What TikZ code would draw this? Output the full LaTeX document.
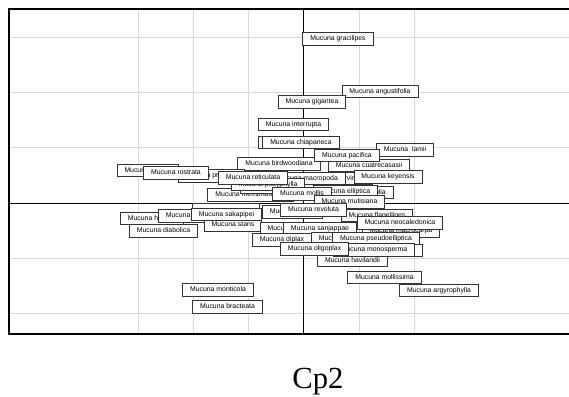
\documentclass[tikz,border=0pt]{standalone}
\usepackage{fontspec}
\setmainfont{Liberation Serif}
\newfontfamily\labfont{Liberation Sans}
\begin{document}
\begin{tikzpicture}[x=0.75pt,y=-0.75pt,
  lbl/.style={draw=black!80, line width=0.7pt, fill=white, inner xsep=5.6pt,
    inner ysep=0pt, minimum height=9.5pt,
    font=\labfont\fontsize{5.15}{6}\selectfont, text height=3.7pt, text depth=1.1pt},
  emptybox/.style={lbl, minimum width=#1},
  gridline/.style={draw=black!15, line width=0.75pt},
  axisline/.style={draw=black, line width=0.75pt},
  plotframe/.style={draw=black, line width=2pt}]
\useasboundingbox (0,0) rectangle (569,397);

% grid
\foreach \gy in {37,92,147.5,258.5,313.5}
  \draw[gridline] (9,\gy) -- (569,\gy);
\foreach \gx in {138,193,248,359,414}
  \draw[gridline] (\gx,9) -- (\gx,334);

% zero axes
\draw[axisline] (9,203) -- (569,203);
\draw[axisline] (303,9) -- (303,334);

% frame
\draw[plotframe] (569,9) -- (9,9) -- (9,334) -- (569,334);

% labels, back to front
\node[lbl] (gracilipes) at (338,39) {Mucuna gracilipes};
\node[lbl] (angustifolia) at (380,91.5) {Mucuna angustifolia};
\node[lbl] (gigantea) at (312,102) {Mucuna gigantea};
\node[lbl] (interrupta) at (293.5,124.5) {Mucuna interrupta};
\node[emptybox=48pt] (behindchia) at (290,142.5) {};
\node[lbl] (chiapaneca) at (301,142.5) {Mucuna chiapaneca};
\node[lbl] (lamii) at (405,150) {Mucuna\ \ lamii};
\node[lbl] (birdwoodiana) at (279,164) {Mucuna birdwoodiana};
\node[lbl] (cuatrecasasii) at (369,165.5) {Mucuna cuatrecasasii};
\node[lbl] (pacifica) at (347,155.5) {Mucuna pacifica};
\node[lbl] (poggei) at (148,170.5) {Mucuna poggei};
\node[lbl] (pruriens) at (211.5,176) {Mucuna pruriens};
\node[lbl] (rostrata) at (176,173) {Mucuna rostrata};
\node[lbl] (sempervirens) at (331.5,178.5) {Mucuna sempervirens};
\node[lbl] (macropoda) at (307.5,178.5) {Mucuna macropoda};
\node[lbl] (keyensis) at (388,177) {Mucuna keyensis};
\node[lbl] (membranacea) at (250.5,195) {Mucuna membranacea};
\node[lbl] (gigas) at (269,187) {Mucuna gigas};
\node[lbl] (platyphylla) at (268,184.5) {Mucuna platyphylla};
\node[lbl] (reticulata) at (253,178) {Mucuna reticulata};
\node[lbl] (urticifolia) at (359,192.5) {Mucuna urticifolia};
\node[lbl] (elliptica) at (345.5,192) {Mucuna elliptica};
\node[lbl] (mollis) at (302,194) {Mucuna mollis};
\node[lbl] (mutisiana) at (349.5,202) {Mucuna mutisiana};

\node[lbl] (holtonii) at (152,218.5) {Mucuna holtonii};
\node[lbl] (sloanei) at (190,216) {Mucuna sloanei};
\node[lbl] (diabolica) at (163.5,231) {Mucuna diabolica};
\node[emptybox=50pt] (behindsaka) at (226,210) {};
\node[lbl] (stans) at (233,225) {Mucuna stans};
\node[lbl] (sakapipei) at (226.5,214.5) {Mucuna sakapipei};
\node[lbl] (flagellipes) at (377,215.5) {Mucuna flagellipes};
\node[lbl] (huberi) at (292.5,212) {Mucuna huberi};
\node[lbl] (revoluta) at (313.5,210) {Mucuna revoluta};
\node[lbl] (tonkinensis) at (298,229) {Mucuna tonkinensis};
\node[lbl] (macrocarpa) at (401,231) {Mucuna macrocarpa};
\node[lbl] (neocaledonica) at (400,223) {Mucuna neocaledonica};
\node[lbl] (sanjappae) at (320,229) {Mucuna sanjappae};
\node[lbl] (diplax) at (282,240) {Mucuna diplax};
\node[lbl] (bennettii) at (345,239) {Mucuna bennettii};
\node[lbl] (pseudoelliptica) at (376,239) {Mucuna pseudoelliptica};
\node[lbl] (havilandii) at (352.5,260.5) {Mucuna havilandii};
\node[emptybox=61pt] (behindmono) at (382,250.5) {};
\node[lbl] (monosperma) at (374,250) {Mucuna monosperma};
\node[lbl] (oligoplax) at (314.5,249) {Mucuna oligoplax};
\node[lbl] (mollissima) at (384.5,277.5) {Mucuna mollissima};
\node[lbl] (argyrophylla) at (439,290.5) {Mucuna argyrophylla};
\node[lbl] (monticola) at (218,290) {Mucuna monticola};
\node[lbl] (bracteata) at (227.5,307) {Mucuna bracteata};

% axis title
\node[font=\fontsize{23}{26}\selectfont, anchor=base] (cptitle) at (318,388) {Cp2};
\end{tikzpicture}
\end{document}
